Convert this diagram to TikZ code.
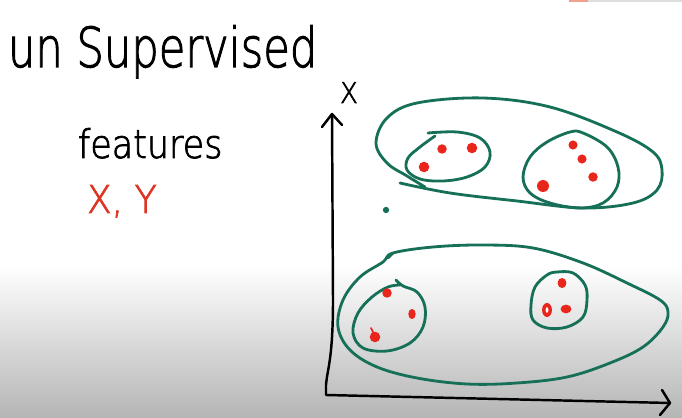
\documentclass[tikz,border=0pt]{standalone}
\usepackage{fontspec}
\usepackage{graphicx}
\setmainfont{DejaVu Sans}
\IfFontExistsTF{DejaVu Sans ExtraLight}
  {\newfontfamily\handfont{DejaVu Sans ExtraLight}[FakeBold=2]}
  {\newfontfamily\handfont{DejaVu Sans}}
\definecolor{cgreen}{RGB}{22,112,88}
\definecolor{cred}{RGB}{232,38,28}
\definecolor{ctxtred}{RGB}{222,52,36}
\definecolor{cbar}{RGB}{222,222,222}
\definecolor{cbarorange}{RGB}{240,160,140}
\begin{document}
\begin{tikzpicture}[x=0.02cm,y=-0.02cm,
  hand/.style={inner sep=0pt,outer sep=0pt,text=black,font=\handfont},
  axis/.style={draw=black,line width=1.4pt,line cap=round,line join=round},
  cluster/.style={draw=cgreen,line width=1.6pt,line cap=round,line join=round},
  reddot/.style={fill=cred}]
\useasboundingbox (0,0) rectangle (682,418);
\fill[white] (0,0) rectangle (682,418);
\shade[top color=white,bottom color=black!29] (0,265) rectangle (682,418);
\fill[cbar] (569,0) rectangle (682,2.5);
\fill[cbarorange] (569,0) rectangle (588,2.5);

% texts
\node[hand,anchor=base west] (title) at (8,67) {\resizebox{176pt}{23.8pt}{un Supervised}};
\node[hand,anchor=base west] (feat) at (78,158) {\resizebox{82.2pt}{17pt}{features}};
\node[hand,anchor=base west,text=ctxtred] (xy) at (87,213) {\resizebox{39.7pt}{15.9pt}{X, Y}};
\node[hand,anchor=south west] (ylab) at (340,103) {\resizebox{10.2pt}{11.9pt}{X}};

% axes
\coordinate (ytip) at (332,114);
\coordinate (orig) at (326,395);
\coordinate (xtip) at (670,403);
\draw[axis] (ytip) -- (333,300) .. controls (333,360) and (327,370) .. (326,385) -- (orig) -- (xtip);
\draw[axis] (ytip) ++(-10,13) -- (ytip) -- ++(10,11);
\draw[axis] (xtip) ++(-8,-13) -- (xtip) -- ++(-10,12);

% upper big cluster
\draw[cluster] plot[smooth,tension=0.6] coordinates {(400,183) (450,193) (517,201) (583,208) (633,203) (657,190) (662,170) (653,152) (617,132) (550,107) (483,98) (417,103) (387,118) (376,143) (387,163) (407,176) (425,187)};
% upper-left small cluster
\draw[cluster] plot[smooth,tension=0.6] coordinates {(428,133) (457,132) (480,138) (490,152) (485,167) (467,177) (443,181) (420,179) (407,170) (408,158) (420,147) (435,136)};
% upper-right small cluster
\draw[cluster] plot[smooth cycle,tension=0.6] coordinates {(570,132) (583,133) (607,147) (618,167) (617,187) (603,203) (580,208) (550,203) (530,193) (523,177) (530,157) (547,142)};
% lower big cluster
\draw[cluster] plot[smooth cycle,tension=0.6] coordinates {(393,253) (433,247) (483,245) (533,248) (583,263) (627,283) (660,300) (668,312) (663,327) (643,347) (610,363) (567,377) (517,383) (467,384) (417,378) (377,367) (350,350) (338,327) (343,300) (360,277) (383,262)};
\draw[cluster] (393,253) -- (388,258);
% lower-left small cluster
\draw[cluster] plot[smooth,tension=0.6] coordinates {(396,280) (403,286) (417,292) (425,307) (423,327) (410,343) (387,351) (363,348) (353,333) (358,313) (372,297) (388,287) (400,285)};
% lower-right small cluster
\draw[cluster] plot[smooth cycle,tension=0.6] coordinates {(557,272) (573,273) (585,285) (587,300) (583,317) (567,327) (547,328) (533,320) (531,305) (535,287) (547,275)};

% points
\fill[reddot] (442,149) circle (2.7pt);
\fill[reddot] (472,148) circle (3pt);
\fill[reddot] (424,167) circle (3pt);
\fill[reddot] (573,145) circle (2.6pt);
\fill[reddot] (582,159) circle (2.6pt);
\fill[reddot] (593,177) circle (2.7pt);
\fill[reddot] (543,186) circle (3.4pt);
\fill[reddot] (387,293) circle (2.7pt);
\fill[reddot] (412,314) ellipse (2.1pt and 2.9pt);
\fill[reddot] (375,337) circle (3pt);
\draw[cred,line width=1pt,line cap=round] (371,328) -- (375,336);
\fill[reddot] (562,283) ellipse (2.5pt and 2.9pt);
\fill[reddot] (547,310) ellipse (2.8pt and 4pt);
\fill[white] (547,310) ellipse (0.8pt and 1.6pt);
\fill[reddot] (566,309) ellipse (3.1pt and 2.5pt);
\fill[cgreen] (386,210) circle (1.8pt);
\end{tikzpicture}
\end{document}
